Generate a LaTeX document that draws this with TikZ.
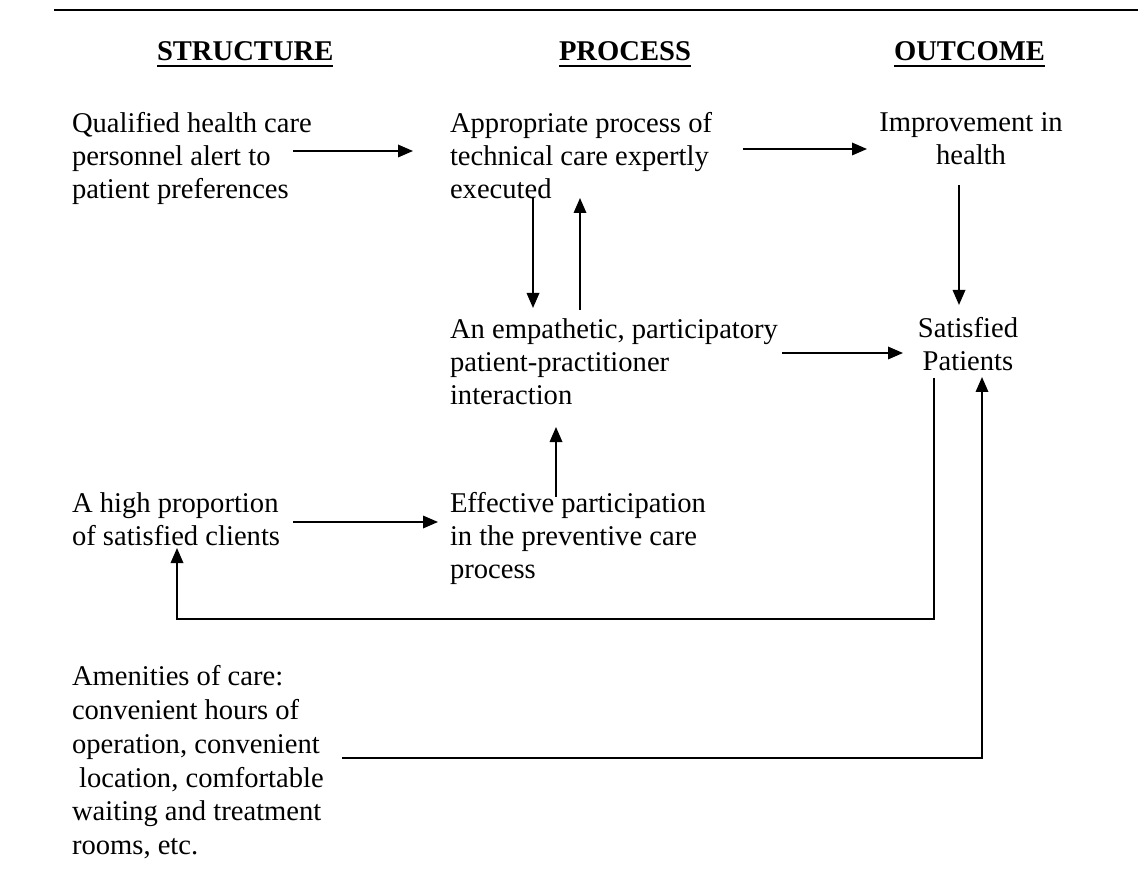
\documentclass[tikz,border=0pt]{standalone}
\usepackage{fontspec}
\setmainfont{Liberation Serif}
\usetikzlibrary{arrows.meta}
\begin{document}
\begin{tikzpicture}[x=1pt,y=-1pt,
  txt/.style={inner sep=0pt, outer sep=0pt, align=left, anchor=north west,
              font=\fontsize{28.6}{33}\selectfont},
  ctxt/.style={txt, align=center, anchor=north},
  head/.style={inner sep=0pt, outer sep=0pt, anchor=base west,
               font=\fontsize{28.6}{33}\selectfont\bfseries},
  link/.style={line width=1.8pt, -{Triangle[length=15pt,width=12.5pt]}},
  uline/.style={line width=2.2pt},
  rule/.style={line width=2.4pt}]

% page frame
\fill[white] (0,0) rectangle (1138,874);
\useasboundingbox (0,0) rectangle (1138,874);

% top rule
\draw[rule] (54,10) -- (1138,10);

% column headings
\node[head] (hs) at (157,61) {STRUCTURE};
\node[head] (hp) at (559,61) {PROCESS};
\node[head] (ho) at (894,61) {OUTCOME};
\foreach \h in {hs,hp,ho}
  \draw[uline] ([yshift=-5pt]\h.base west) -- ([yshift=-5pt]\h.base east);

% text blocks
\node[txt] (qual) at (72,112.5) {Qualified health care\\personnel alert to\\patient preferences};
\node[txt] (appr) at (450,112.5) {Appropriate process of\\technical care expertly\\executed};
\node[ctxt] (impr) at (971,112.5) {Improvement in\\health};
\node[txt] (emp) at (450,318.5) {An empathetic, participatory\\patient-practitioner\\interaction};
\node[ctxt] (sat) at (968,317.5) {Satisfied\\Patients};
\node[txt] (high) at (72,492.5) {A high proportion\\of satisfied clients};
\node[txt] (eff) at (450,492.5) {Effective participation\\in the preventive care\\process};
\node[txt, font=\fontsize{28.6}{33.8}\selectfont] (amen) at (72,665.5)
  {Amenities of care:\\convenient hours of\\operation, convenient\\\hspace*{.25em}location, comfortable\\waiting and treatment\\rooms, etc.};

% connector ports
\coordinate (qual-out) at ([shift={(221,38.5)}]qual.north west);
\coordinate (appr-in)  at ([shift={(-37,38.5)}]appr.north west);
\coordinate (appr-out) at ([shift={(293,36.5)}]appr.north west);
\coordinate (impr-in)  at ([shift={(-104,36.5)}]impr.north);
\coordinate (impr-out) at ([shift={(-12,72.5)}]impr.north);
\coordinate (sat-top)  at ([shift={(-9,-12.5)}]sat.north);
\coordinate (appr-dn)  at ([shift={(83,84.5)}]appr.north west);
\coordinate (emp-top1) at ([shift={(83,-10.5)}]emp.north west);
\coordinate (emp-top2) at ([shift={(130,-8.5)}]emp.north west);
\coordinate (appr-up)  at ([shift={(130,85.5)}]appr.north west);
\coordinate (emp-out)  at ([shift={(332,34.5)}]emp.north west);
\coordinate (sat-in)   at ([shift={(-65,35.5)}]sat.north);
\coordinate (eff-top)  at ([shift={(106,4.5)}]eff.north west);
\coordinate (emp-bot)  at ([shift={(106,108.5)}]emp.north west);
\coordinate (high-out) at ([shift={(221,29.5)}]high.north west);
\coordinate (eff-in)   at ([shift={(-12,29.5)}]eff.north west);
\coordinate (sat-bot1) at ([shift={(-34,60.5)}]sat.north);
\coordinate (high-bot) at ([shift={(105,55.5)}]high.north west);
\coordinate (amen-out) at ([shift={(270,92.5)}]amen.north west);
\coordinate (sat-bot2) at ([shift={(14,59.5)}]sat.north);

% connectors
\draw[link] (qual-out) -- (appr-in);
\draw[link] (appr-out) -- (impr-in);
\draw[link] (impr-out) -- (sat-top);
\draw[link] (appr-dn) -- (emp-top1);
\draw[link] (emp-top2) -- (appr-up);
\draw[link] (emp-out) -- (sat-in);
\draw[link] (eff-top) -- (emp-bot);
\draw[link] (high-out) -- (eff-in);
\draw[link] (sat-bot1) -- ++(0,241) -| (high-bot);
\draw[link] (amen-out) -| (sat-bot2);
\end{tikzpicture}
\end{document}
